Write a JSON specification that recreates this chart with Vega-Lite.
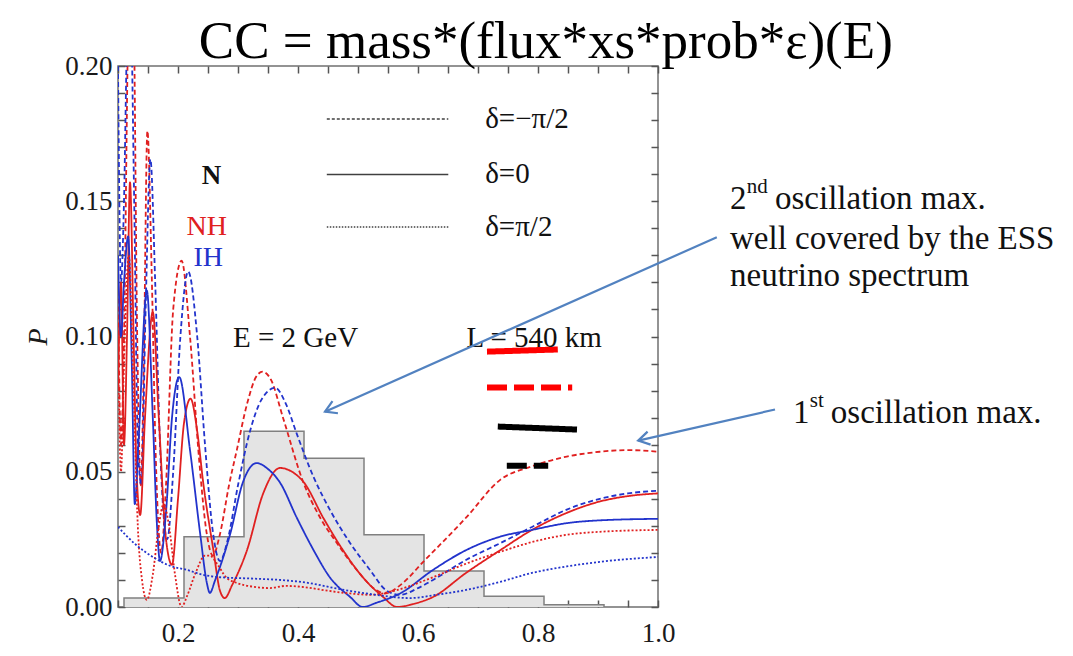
{
  "$schema": "https://vega.github.io/schema/vega-lite/v6.json",
  "width": 540,
  "height": 541,
  "autosize": {"type": "none"},
  "padding": {"left": 118, "top": 66, "right": 415, "bottom": 49},
  "background": "white",
  "config": {
    "view": {"stroke": "#707070", "strokeWidth": 1.5},
    "font": "Liberation Serif",
    "axis": {"grid": false, "domain": false, "ticks": true, "labelFont": "Liberation Serif", "labelFontSize": 27, "labelColor": "#1a1a1a", "tickColor": "#555555", "tickWidth": 1.5, "labelFlush": false, "labelOverlap": false, "zindex": 2}
  },
  "resolve": {"axis": {"x": "independent", "y": "independent"}},
  "datasets": {
    "hist": [
      {"lo": 0.11, "hi": 0.21, "h": 0.0033},
      {"lo": 0.21, "hi": 0.31, "h": 0.026},
      {"lo": 0.31, "hi": 0.41, "h": 0.065},
      {"lo": 0.41, "hi": 0.51, "h": 0.055},
      {"lo": 0.51, "hi": 0.61, "h": 0.0267},
      {"lo": 0.61, "hi": 0.71, "h": 0.0133},
      {"lo": 0.71, "hi": 0.81, "h": 0.004},
      {"lo": 0.81, "hi": 0.91, "h": 0.0008}
    ],
    "histline": [
      {"o": 0, "x": 0.11, "y": 0},
      {"o": 1, "x": 0.11, "y": 0.0033},
      {"o": 2, "x": 0.21, "y": 0.026},
      {"o": 3, "x": 0.31, "y": 0.065},
      {"o": 4, "x": 0.41, "y": 0.055},
      {"o": 5, "x": 0.51, "y": 0.0267},
      {"o": 6, "x": 0.61, "y": 0.0133},
      {"o": 7, "x": 0.71, "y": 0.004},
      {"o": 8, "x": 0.81, "y": 0.0008},
      {"o": 9, "x": 0.91, "y": 0.0008},
      {"o": 10, "x": 0.91, "y": 0}
    ],
    "curves": [
      {"h":"NH","d":"m","x":0.1,"y":0.12},{"h":"NH","d":"m","x":0.105,"y":0.06},{"h":"NH","d":"m","x":0.11,"y":0.1},{"h":"NH","d":"m","x":0.118,"y":0.22},{"h":"NH","d":"m","x":0.125,"y":0.23},{"h":"NH","d":"m","x":0.132,"y":0.1},{"h":"NH","d":"m","x":0.138,"y":0.045},{"h":"NH","d":"m","x":0.143,"y":0.09},{"h":"NH","d":"m","x":0.149,"y":0.176},{"h":"NH","d":"m","x":0.156,"y":0.125},{"h":"NH","d":"m","x":0.163,"y":0.055},{"h":"NH","d":"m","x":0.172,"y":0.02},{"h":"NH","d":"m","x":0.18,"y":0.045},{"h":"NH","d":"m","x":0.192,"y":0.11},{"h":"NH","d":"m","x":0.206,"y":0.128},{"h":"NH","d":"m","x":0.22,"y":0.1},{"h":"NH","d":"m","x":0.235,"y":0.055},{"h":"NH","d":"m","x":0.248,"y":0.027},{"h":"NH","d":"m","x":0.258,"y":0.019},{"h":"NH","d":"m","x":0.27,"y":0.027},{"h":"NH","d":"m","x":0.285,"y":0.045},{"h":"NH","d":"m","x":0.298,"y":0.058},{"h":"NH","d":"m","x":0.315,"y":0.075},{"h":"NH","d":"m","x":0.33,"y":0.085},{"h":"NH","d":"m","x":0.341,"y":0.087},{"h":"NH","d":"m","x":0.355,"y":0.084},{"h":"NH","d":"m","x":0.375,"y":0.07},{"h":"NH","d":"m","x":0.409,"y":0.046},{"h":"NH","d":"m","x":0.437,"y":0.033},{"h":"NH","d":"m","x":0.465,"y":0.0236},{"h":"NH","d":"m","x":0.498,"y":0.0137},{"h":"NH","d":"m","x":0.53,"y":0.0063},{"h":"NH","d":"m","x":0.545,"y":0.005},{"h":"NH","d":"m","x":0.57,"y":0.008},{"h":"NH","d":"m","x":0.61,"y":0.017},{"h":"NH","d":"m","x":0.68,"y":0.033},{"h":"NH","d":"m","x":0.737,"y":0.047},{"h":"NH","d":"m","x":0.79,"y":0.052},{"h":"NH","d":"m","x":0.848,"y":0.0556},{"h":"NH","d":"m","x":0.903,"y":0.0574},{"h":"NH","d":"m","x":0.95,"y":0.058},{"h":"NH","d":"m","x":1.0,"y":0.0574},
      {"h":"IH","d":"m","x":0.1,"y":0.2},{"h":"IH","d":"m","x":0.105,"y":0.12},{"h":"IH","d":"m","x":0.11,"y":0.15},{"h":"IH","d":"m","x":0.115,"y":0.21},{"h":"IH","d":"m","x":0.12,"y":0.23},{"h":"IH","d":"m","x":0.127,"y":0.15},{"h":"IH","d":"m","x":0.133,"y":0.06},{"h":"IH","d":"m","x":0.139,"y":0.045},{"h":"IH","d":"m","x":0.146,"y":0.11},{"h":"IH","d":"m","x":0.154,"y":0.1655},{"h":"IH","d":"m","x":0.162,"y":0.12},{"h":"IH","d":"m","x":0.17,"y":0.06},{"h":"IH","d":"m","x":0.182,"y":0.025},{"h":"IH","d":"m","x":0.192,"y":0.05},{"h":"IH","d":"m","x":0.204,"y":0.1},{"h":"IH","d":"m","x":0.217,"y":0.124},{"h":"IH","d":"m","x":0.232,"y":0.1},{"h":"IH","d":"m","x":0.245,"y":0.06},{"h":"IH","d":"m","x":0.258,"y":0.028},{"h":"IH","d":"m","x":0.27,"y":0.017},{"h":"IH","d":"m","x":0.283,"y":0.025},{"h":"IH","d":"m","x":0.3,"y":0.045},{"h":"IH","d":"m","x":0.32,"y":0.065},{"h":"IH","d":"m","x":0.34,"y":0.077},{"h":"IH","d":"m","x":0.362,"y":0.081},{"h":"IH","d":"m","x":0.38,"y":0.075},{"h":"IH","d":"m","x":0.398,"y":0.064},{"h":"IH","d":"m","x":0.426,"y":0.048},{"h":"IH","d":"m","x":0.453,"y":0.036},{"h":"IH","d":"m","x":0.487,"y":0.0236},{"h":"IH","d":"m","x":0.52,"y":0.0137},{"h":"IH","d":"m","x":0.548,"y":0.006},{"h":"IH","d":"m","x":0.57,"y":0.0045},{"h":"IH","d":"m","x":0.6,"y":0.007},{"h":"IH","d":"m","x":0.625,"y":0.01},{"h":"IH","d":"m","x":0.68,"y":0.0174},{"h":"IH","d":"m","x":0.737,"y":0.0236},{"h":"IH","d":"m","x":0.79,"y":0.0296},{"h":"IH","d":"m","x":0.848,"y":0.036},{"h":"IH","d":"m","x":0.903,"y":0.04},{"h":"IH","d":"m","x":0.95,"y":0.042},{"h":"IH","d":"m","x":1.0,"y":0.043},
      {"h":"NH","d":"0","x":0.1,"y":0.08},{"h":"NH","d":"0","x":0.105,"y":0.12},{"h":"NH","d":"0","x":0.11,"y":0.06},{"h":"NH","d":"0","x":0.115,"y":0.1},{"h":"NH","d":"0","x":0.12,"y":0.157},{"h":"NH","d":"0","x":0.126,"y":0.1},{"h":"NH","d":"0","x":0.131,"y":0.05},{"h":"NH","d":"0","x":0.137,"y":0.034},{"h":"NH","d":"0","x":0.145,"y":0.07},{"h":"NH","d":"0","x":0.158,"y":0.109},{"h":"NH","d":"0","x":0.168,"y":0.07},{"h":"NH","d":"0","x":0.18,"y":0.025},{"h":"NH","d":"0","x":0.19,"y":0.0156},{"h":"NH","d":"0","x":0.2,"y":0.04},{"h":"NH","d":"0","x":0.21,"y":0.068},{"h":"NH","d":"0","x":0.221,"y":0.077},{"h":"NH","d":"0","x":0.232,"y":0.065},{"h":"NH","d":"0","x":0.242,"y":0.046},{"h":"NH","d":"0","x":0.259,"y":0.021},{"h":"NH","d":"0","x":0.27,"y":0.006},{"h":"NH","d":"0","x":0.278,"y":0.0033},{"h":"NH","d":"0","x":0.29,"y":0.008},{"h":"NH","d":"0","x":0.315,"y":0.021},{"h":"NH","d":"0","x":0.342,"y":0.042},{"h":"NH","d":"0","x":0.37,"y":0.0514},{"h":"NH","d":"0","x":0.39,"y":0.05},{"h":"NH","d":"0","x":0.41,"y":0.046},{"h":"NH","d":"0","x":0.442,"y":0.033},{"h":"NH","d":"0","x":0.475,"y":0.021},{"h":"NH","d":"0","x":0.508,"y":0.011},{"h":"NH","d":"0","x":0.542,"y":0.0037},{"h":"NH","d":"0","x":0.565,"y":0.0},{"h":"NH","d":"0","x":0.59,"y":0.001},{"h":"NH","d":"0","x":0.625,"y":0.0037},{"h":"NH","d":"0","x":0.68,"y":0.0126},{"h":"NH","d":"0","x":0.737,"y":0.021},{"h":"NH","d":"0","x":0.79,"y":0.0285},{"h":"NH","d":"0","x":0.848,"y":0.0348},{"h":"NH","d":"0","x":0.903,"y":0.039},{"h":"NH","d":"0","x":0.95,"y":0.041},{"h":"NH","d":"0","x":1.0,"y":0.042},
      {"h":"IH","d":"0","x":0.1,"y":0.13},{"h":"IH","d":"0","x":0.105,"y":0.1},{"h":"IH","d":"0","x":0.11,"y":0.12},{"h":"IH","d":"0","x":0.117,"y":0.137},{"h":"IH","d":"0","x":0.123,"y":0.09},{"h":"IH","d":"0","x":0.128,"y":0.038},{"h":"IH","d":"0","x":0.134,"y":0.06},{"h":"IH","d":"0","x":0.148,"y":0.117},{"h":"IH","d":"0","x":0.158,"y":0.07},{"h":"IH","d":"0","x":0.165,"y":0.03},{"h":"IH","d":"0","x":0.17,"y":0.017},{"h":"IH","d":"0","x":0.18,"y":0.035},{"h":"IH","d":"0","x":0.19,"y":0.07},{"h":"IH","d":"0","x":0.202,"y":0.085},{"h":"IH","d":"0","x":0.22,"y":0.058},{"h":"IH","d":"0","x":0.237,"y":0.027},{"h":"IH","d":"0","x":0.248,"y":0.009},{"h":"IH","d":"0","x":0.253,"y":0.0052},{"h":"IH","d":"0","x":0.262,"y":0.01},{"h":"IH","d":"0","x":0.287,"y":0.027},{"h":"IH","d":"0","x":0.308,"y":0.046},{"h":"IH","d":"0","x":0.331,"y":0.0532},{"h":"IH","d":"0","x":0.35,"y":0.051},{"h":"IH","d":"0","x":0.37,"y":0.046},{"h":"IH","d":"0","x":0.398,"y":0.033},{"h":"IH","d":"0","x":0.426,"y":0.021},{"h":"IH","d":"0","x":0.453,"y":0.011},{"h":"IH","d":"0","x":0.487,"y":0.0037},{"h":"IH","d":"0","x":0.508,"y":0.0},{"h":"IH","d":"0","x":0.53,"y":0.0015},{"h":"IH","d":"0","x":0.57,"y":0.005},{"h":"IH","d":"0","x":0.625,"y":0.0137},{"h":"IH","d":"0","x":0.68,"y":0.021},{"h":"IH","d":"0","x":0.737,"y":0.026},{"h":"IH","d":"0","x":0.79,"y":0.0285},{"h":"IH","d":"0","x":0.848,"y":0.031},{"h":"IH","d":"0","x":0.9,"y":0.032},{"h":"IH","d":"0","x":1.0,"y":0.0326},
      {"h":"NH","d":"p","x":0.1,"y":0.1},{"h":"NH","d":"p","x":0.105,"y":0.05},{"h":"NH","d":"p","x":0.11,"y":0.09},{"h":"NH","d":"p","x":0.118,"y":0.13},{"h":"NH","d":"p","x":0.126,"y":0.08},{"h":"NH","d":"p","x":0.133,"y":0.03},{"h":"NH","d":"p","x":0.14,"y":0.01},{"h":"NH","d":"p","x":0.148,"y":0.0026},{"h":"NH","d":"p","x":0.158,"y":0.012},{"h":"NH","d":"p","x":0.168,"y":0.03},{"h":"NH","d":"p","x":0.176,"y":0.038},{"h":"NH","d":"p","x":0.185,"y":0.03},{"h":"NH","d":"p","x":0.195,"y":0.012},{"h":"NH","d":"p","x":0.206,"y":0.0},{"h":"NH","d":"p","x":0.215,"y":0.004},{"h":"NH","d":"p","x":0.23,"y":0.013},{"h":"NH","d":"p","x":0.245,"y":0.019},{"h":"NH","d":"p","x":0.253,"y":0.019},{"h":"NH","d":"p","x":0.265,"y":0.016},{"h":"NH","d":"p","x":0.28,"y":0.011},{"h":"NH","d":"p","x":0.298,"y":0.0089},{"h":"NH","d":"p","x":0.325,"y":0.0075},{"h":"NH","d":"p","x":0.353,"y":0.007},{"h":"NH","d":"p","x":0.38,"y":0.0078},{"h":"NH","d":"p","x":0.408,"y":0.0074},{"h":"NH","d":"p","x":0.45,"y":0.006},{"h":"NH","d":"p","x":0.487,"y":0.005},{"h":"NH","d":"p","x":0.52,"y":0.0045},{"h":"NH","d":"p","x":0.56,"y":0.006},{"h":"NH","d":"p","x":0.625,"y":0.011},{"h":"NH","d":"p","x":0.68,"y":0.016},{"h":"NH","d":"p","x":0.737,"y":0.0204},{"h":"NH","d":"p","x":0.79,"y":0.024},{"h":"NH","d":"p","x":0.848,"y":0.0267},{"h":"NH","d":"p","x":0.903,"y":0.0278},{"h":"NH","d":"p","x":1.0,"y":0.0285},
      {"h":"IH","d":"p","x":0.1,"y":0.0296},{"h":"IH","d":"p","x":0.13,"y":0.023},{"h":"IH","d":"p","x":0.158,"y":0.0185},{"h":"IH","d":"p","x":0.187,"y":0.0152},{"h":"IH","d":"p","x":0.215,"y":0.0137},{"h":"IH","d":"p","x":0.24,"y":0.012},{"h":"IH","d":"p","x":0.27,"y":0.011},{"h":"IH","d":"p","x":0.325,"y":0.0105},{"h":"IH","d":"p","x":0.382,"y":0.0098},{"h":"IH","d":"p","x":0.42,"y":0.0088},{"h":"IH","d":"p","x":0.465,"y":0.0068},{"h":"IH","d":"p","x":0.52,"y":0.0048},{"h":"IH","d":"p","x":0.587,"y":0.0033},{"h":"IH","d":"p","x":0.63,"y":0.0045},{"h":"IH","d":"p","x":0.68,"y":0.0063},{"h":"IH","d":"p","x":0.737,"y":0.0093},{"h":"IH","d":"p","x":0.79,"y":0.0126},{"h":"IH","d":"p","x":0.848,"y":0.015},{"h":"IH","d":"p","x":0.903,"y":0.0167},{"h":"IH","d":"p","x":1.0,"y":0.0185}
    ],
    "legend": [
      {"k": "Lm", "x": 0.448, "x2": 0.6505, "y": 0.1804, "t": "δ=−π/2"},
      {"k": "L0", "x": 0.448, "x2": 0.6505, "y": 0.1599, "t": "δ=0"},
      {"k": "Lp", "x": 0.448, "x2": 0.6505, "y": 0.1405, "t": "δ=π/2"}
    ],
    "overlay": [
      {"c": "red", "k": "os", "x": 0.715, "x2": 0.833, "y": 0.0944, "y2": 0.0952},
      {"c": "red", "k": "od", "x": 0.715, "x2": 0.857, "y": 0.0811, "y2": 0.0811},
      {"c": "black", "k": "os", "x": 0.733, "x2": 0.865, "y": 0.0667, "y2": 0.0656},
      {"c": "black", "k": "od", "x": 0.748, "x2": 0.817, "y": 0.0522, "y2": 0.0522}
    ],
    "arrows": [
      {"a": 1, "x": 1.098, "y": 0.1367, "x2": 0.445, "y2": 0.0722},
      {"a": 2, "x": 1.195, "y": 0.073, "x2": 0.967, "y2": 0.0615}
    ],
    "texts": [
      {"g": "title", "t": "CC = mass*(flux*xs*prob*ε)(E)", "x": 0.813, "y": 0.209},
      {"g": "N", "t": "N", "x": 0.256, "y": 0.1594},
      {"g": "NH", "t": "NH", "x": 0.248, "y": 0.1403},
      {"g": "IH", "t": "IH", "x": 0.2505, "y": 0.1291},
      {"g": "body", "t": "E = 2 GeV", "x": 0.2917, "y": 0.0996},
      {"g": "body", "t": "L = 540 km", "x": 0.681, "y": 0.0996},
      {"g": "note", "t": "2", "x": 1.12, "y": 0.1507},
      {"g": "sup", "t": "nd", "x": 1.148, "y": 0.1551},
      {"g": "note", "t": "oscillation max.", "x": 1.195, "y": 0.1507},
      {"g": "note", "t": "well covered by the ESS", "x": 1.12, "y": 0.1359},
      {"g": "note", "t": "neutrino spectrum", "x": 1.12, "y": 0.1222},
      {"g": "note", "t": "1", "x": 1.225, "y": 0.0719},
      {"g": "sup", "t": "st", "x": 1.253, "y": 0.0763},
      {"g": "note", "t": "oscillation max.", "x": 1.288, "y": 0.0719}
    ]
  },
  "layer": [
    {
      "data": {"name": "hist"},
      "mark": {"type": "rect", "fill": "#e4e4e4"},
      "encoding": {
        "x": {"field": "lo", "type": "quantitative", "scale": {"domain": [0.1, 1.0], "nice": false, "zero": false},
          "axis": {"orient": "bottom", "title": null, "values": [0.1,0.15,0.2,0.25,0.3,0.35,0.4,0.45,0.5,0.55,0.6,0.65,0.7,0.75,0.8,0.85,0.9,0.95,1.0],
            "labelExpr": "round(datum.value*100) % 20 == 0 ? format(datum.value, '.1f') : ''", "offset": -7, "ticks": true, "tickSize": 7, "tickColor": "#555555", "tickWidth": 1.5, "labelPadding": 13, "labelFont": "Liberation Serif", "labelFontSize": 27}},
        "x2": {"field": "hi"},
        "y": {"field": "h", "type": "quantitative", "scale": {"domain": [0, 0.2], "nice": false, "zero": false},
          "axis": {"orient": "left", "values": [0,0.01,0.02,0.03,0.04,0.05,0.06,0.07,0.08,0.09,0.1,0.11,0.12,0.13,0.14,0.15,0.16,0.17,0.18,0.19,0.2],
            "labelExpr": "round(datum.value*100) % 5 == 0 ? format(datum.value, '.2f') : ''", "offset": -7, "ticks": true, "tickSize": 7, "tickColor": "#555555", "tickWidth": 1.5, "labelPadding": 6, "labelFont": "Liberation Serif", "labelFontSize": 27,
            "title": "P", "titleFont": "Liberation Serif", "titleFontStyle": "italic", "titleFontWeight": "normal", "titleFontSize": 28, "titleColor": "#1a1a1a", "titlePadding": 12}},
        "y2": {"datum": 0}
      }
    },
    {
      "data": {"name": "histline"},
      "mark": {"type": "line", "interpolate": "step-after", "stroke": "#808080", "strokeWidth": 1.5},
      "encoding": {
        "x": {"field": "x", "type": "quantitative", "scale": {"domain": [0.1, 1.0], "nice": false, "zero": false},
          "axis": {"orient": "top", "title": null, "labels": false, "values": [0.1,0.15,0.2,0.25,0.3,0.35,0.4,0.45,0.5,0.55,0.6,0.65,0.7,0.75,0.8,0.85,0.9,0.95,1.0], "offset": -7, "ticks": true, "tickSize": 7, "tickColor": "#555555", "tickWidth": 1.5}},
        "y": {"field": "y", "type": "quantitative", "scale": {"domain": [0, 0.2], "nice": false, "zero": false},
          "axis": {"orient": "right", "title": null, "labels": false, "values": [0,0.01,0.02,0.03,0.04,0.05,0.06,0.07,0.08,0.09,0.1,0.11,0.12,0.13,0.14,0.15,0.16,0.17,0.18,0.19,0.2], "offset": -7, "ticks": true, "tickSize": 7, "tickColor": "#555555", "tickWidth": 1.5}},
        "order": {"field": "o"}
      }
    },
    {
      "data": {"name": "curves"},
      "mark": {"type": "line", "interpolate": "monotone", "strokeWidth": 1.8, "clip": true},
      "encoding": {
        "x": {"field": "x", "type": "quantitative", "scale": {"domain": [0.1, 1.0], "nice": false, "zero": false}, "axis": null},
        "y": {"field": "y", "type": "quantitative", "scale": {"domain": [0, 0.2], "nice": false, "zero": false}, "axis": null},
        "color": {"field": "h", "type": "nominal", "legend": null,
          "scale": {"domain": ["NH", "IH", "leg", "red", "black"], "range": ["#e02020", "#2233cc", "#404040", "#ff0000", "#000000"]}},
        "strokeDash": {"field": "d", "type": "nominal", "legend": null,
          "scale": {"domain": ["m", "0", "p", "Lm", "L0", "Lp", "os", "od"], "range": [[5, 3], [1, 0], [2, 2], [3, 2], [1, 0], [1.5, 1.5], [1, 0], [20, 7]]}},
        "detail": {"field": "d"}
      }
    },
    {
      "data": {"name": "legend"},
      "mark": {"type": "rule", "strokeWidth": 1.6, "color": "#404040"},
      "encoding": {
        "x": {"field": "x", "type": "quantitative", "axis": null},
        "x2": {"field": "x2"},
        "y": {"field": "y", "type": "quantitative", "axis": null},
        "strokeDash": {"field": "k", "type": "nominal", "legend": null}
      }
    },
    {
      "data": {"name": "legend"},
      "mark": {"type": "text", "align": "left", "baseline": "middle", "fontSize": 29, "font": "Liberation Serif", "color": "#111111"},
      "encoding": {
        "x": {"datum": 0.712, "type": "quantitative", "axis": null},
        "y": {"field": "y", "type": "quantitative", "axis": null},
        "text": {"field": "t"}
      }
    },
    {
      "data": {"name": "overlay"},
      "mark": {"type": "rule", "strokeWidth": 6},
      "encoding": {
        "x": {"field": "x", "type": "quantitative", "axis": null},
        "x2": {"field": "x2"},
        "y": {"field": "y", "type": "quantitative", "axis": null},
        "y2": {"field": "y2"},
        "color": {"field": "c", "type": "nominal", "legend": null},
        "strokeDash": {"field": "k", "type": "nominal", "legend": null}
      }
    },
    {
      "data": {"name": "texts"},
      "transform": [{"filter": "datum.g == 'title'"}],
      "mark": {"type": "text", "align": "center", "baseline": "middle", "fontSize": 53, "font": "Liberation Serif", "color": "#000000"},
      "encoding": {
        "x": {"field": "x", "type": "quantitative", "axis": null},
        "y": {"field": "y", "type": "quantitative", "axis": null},
        "text": {"field": "t"}
      }
    },
    {
      "data": {"name": "texts"},
      "transform": [{"filter": "datum.g == 'N'"}],
      "mark": {"type": "text", "align": "center", "baseline": "middle", "fontSize": 27, "fontWeight": "bold", "font": "Liberation Serif", "color": "#111111"},
      "encoding": {
        "x": {"field": "x", "type": "quantitative", "axis": null},
        "y": {"field": "y", "type": "quantitative", "axis": null},
        "text": {"field": "t"}
      }
    },
    {
      "data": {"name": "texts"},
      "transform": [{"filter": "datum.g == 'NH'"}],
      "mark": {"type": "text", "align": "center", "baseline": "middle", "fontSize": 28, "font": "Liberation Serif", "color": "#e02020"},
      "encoding": {
        "x": {"field": "x", "type": "quantitative", "axis": null},
        "y": {"field": "y", "type": "quantitative", "axis": null},
        "text": {"field": "t"}
      }
    },
    {
      "data": {"name": "texts"},
      "transform": [{"filter": "datum.g == 'IH'"}],
      "mark": {"type": "text", "align": "center", "baseline": "middle", "fontSize": 28, "font": "Liberation Serif", "color": "#2233cc"},
      "encoding": {
        "x": {"field": "x", "type": "quantitative", "axis": null},
        "y": {"field": "y", "type": "quantitative", "axis": null},
        "text": {"field": "t"}
      }
    },
    {
      "data": {"name": "texts"},
      "transform": [{"filter": "datum.g == 'body'"}],
      "mark": {"type": "text", "align": "left", "baseline": "middle", "fontSize": 29, "font": "Liberation Serif", "color": "#111111"},
      "encoding": {
        "x": {"field": "x", "type": "quantitative", "axis": null},
        "y": {"field": "y", "type": "quantitative", "axis": null},
        "text": {"field": "t"}
      }
    },
    {
      "data": {"name": "texts"},
      "transform": [{"filter": "datum.g == 'note'"}],
      "mark": {"type": "text", "align": "left", "baseline": "middle", "fontSize": 33, "font": "Liberation Serif", "color": "#111111"},
      "encoding": {
        "x": {"field": "x", "type": "quantitative", "axis": null},
        "y": {"field": "y", "type": "quantitative", "axis": null},
        "text": {"field": "t"}
      }
    },
    {
      "data": {"name": "texts"},
      "transform": [{"filter": "datum.g == 'sup'"}],
      "mark": {"type": "text", "align": "left", "baseline": "middle", "fontSize": 21, "font": "Liberation Serif", "color": "#111111"},
      "encoding": {
        "x": {"field": "x", "type": "quantitative", "axis": null},
        "y": {"field": "y", "type": "quantitative", "axis": null},
        "text": {"field": "t"}
      }
    },
    {
      "data": {"name": "arrows"},
      "mark": {"type": "rule", "strokeWidth": 2.2, "color": "#5282c0"},
      "encoding": {
        "x": {"field": "x", "type": "quantitative", "axis": null},
        "x2": {"field": "x2"},
        "y": {"field": "y", "type": "quantitative", "axis": null},
        "y2": {"field": "y2"}
      }
    },
    {
      "data": {"name": "arrows"},
      "transform": [{"filter": "datum.a == 1"}],
      "mark": {"type": "point", "shape": "M -0.6 1 L 0 0 L 0.6 1", "filled": false, "stroke": "#5282c0", "strokeWidth": 2.2, "size": 500, "angle": 246, "opacity": 1},
      "encoding": {
        "x": {"field": "x2", "type": "quantitative", "axis": null},
        "y": {"field": "y2", "type": "quantitative", "axis": null}
      }
    },
    {
      "data": {"name": "arrows"},
      "transform": [{"filter": "datum.a == 2"}],
      "mark": {"type": "point", "shape": "M -0.6 1 L 0 0 L 0.6 1", "filled": false, "stroke": "#5282c0", "strokeWidth": 2.2, "size": 500, "angle": 257, "opacity": 1},
      "encoding": {
        "x": {"field": "x2", "type": "quantitative", "axis": null},
        "y": {"field": "y2", "type": "quantitative", "axis": null}
      }
    }
  ]
}
